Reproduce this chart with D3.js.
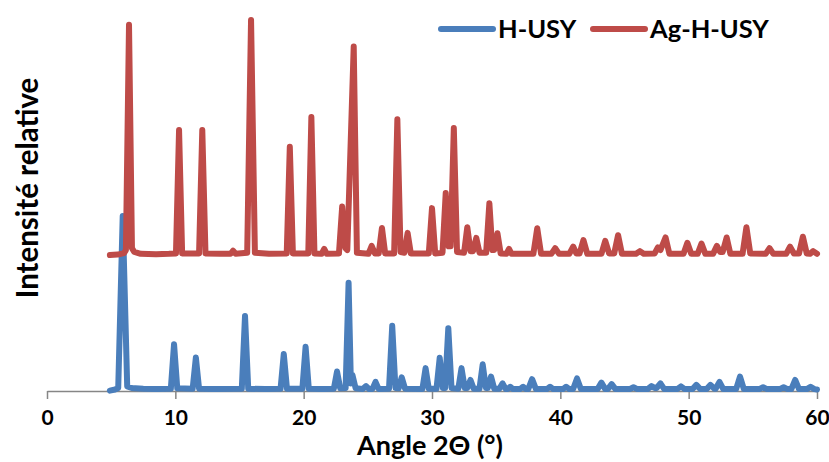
<!DOCTYPE html>
<html>
<script src="https://d3js.org/d3.v7.min.js"></script>

<head>
    <style>
        body {
            margin: 0;
            background-color: #ffffff;
            font-family: Lato, "Open Sans", Arial, sans-serif;
        }

        svg {
            display: block;
        }
    </style>
</head>

<body>
</body>
<script>
    const width = 829,
        height = 462;

    // x ticks, series names, offset applied to the upper pattern
    const TICKS = [0, 10, 20, 30, 40, 50, 60];
    const SERIES = ["H-USY", "Ag-H-USY"];
    const COLORS = ["#4A7EBB", "#BE4B48"];
    const AG_OFFSET = 35.5;

    // [angle 2theta, intensity]
    const H_USY = [
        [4.9, 0.1], [5.3, 0.4], [5.55, 0.8], [5.9, 45.9], [6.25, 1.2], [6.6, 0.8], [7.5, 0.6], [8.5, 0.5],
        [9.65, 0.6], [9.9, 12.3], [10.15, 0.7], [11.35, 0.6], [11.6, 8.8], [11.85, 0.6], [13, 0.5],
        [15.18, 0.6], [15.43, 19.7], [15.68, 0.6], [17, 0.5], [18.2, 0.6], [18.45, 9.7], [18.7, 0.6],
        [19.9, 0.6], [20.15, 11.6], [20.4, 0.6], [21.5, 0.5], [22.35, 0.6], [22.6, 5.1], [22.85, 0.7],
        [23.27, 0.8], [23.5, 28.4], [23.68, 2.0], [23.8, 4.2], [24.05, 0.7], [24.6, 0.5], [24.86, 1.3],
        [25.1, 0.5], [25.35, 0.5], [25.6, 2.4], [25.85, 0.5], [26.65, 0.6], [26.9, 17.1], [27.15, 0.8],
        [27.4, 0.7], [27.64, 3.6], [27.9, 0.6], [29.25, 0.5], [29.5, 6.0], [29.75, 0.6], [30.35, 0.6],
        [30.6, 8.7], [30.85, 0.8], [31.02, 0.8], [31.27, 16.5], [31.52, 0.8], [32.05, 0.6], [32.3, 6.0],
        [32.55, 0.8], [32.75, 0.8], [33.0, 2.9], [33.25, 0.6], [33.7, 0.6], [33.95, 7.0], [34.2, 0.8],
        [34.35, 0.8], [34.6, 3.8], [34.85, 0.6], [35.25, 0.6], [35.5, 2.0], [35.75, 0.5], [35.9, 0.5],
        [36.1, 1.1], [36.3, 0.5], [36.85, 0.5], [37.1, 1.1], [37.3, 0.5], [37.5, 0.5], [37.8, 3.1],
        [38.1, 0.5], [38.95, 0.5], [39.2, 1.1], [39.45, 0.5], [40.2, 0.5], [40.45, 1.1], [40.7, 0.5],
        [41.0, 0.5], [41.3, 3.3], [41.6, 0.5], [42.9, 0.5], [43.2, 2.2], [43.5, 0.5], [43.7, 0.5],
        [44.0, 1.8], [44.3, 0.5], [45.4, 0.5], [45.7, 1.0], [46.0, 0.5], [46.8, 0.5], [47.1, 1.3],
        [47.35, 0.8], [47.5, 0.8], [47.8, 2.0], [48.1, 0.5], [49.1, 0.5], [49.4, 1.2], [49.7, 0.5],
        [50.3, 0.5], [50.6, 1.6], [50.9, 0.5], [51.4, 0.5], [51.7, 1.6], [52.0, 0.6], [52.1, 0.6],
        [52.4, 2.4], [52.7, 0.5], [53.7, 0.5], [54.0, 3.8], [54.3, 0.5], [55.5, 0.5], [55.8, 1.0],
        [56.1, 0.5], [57.1, 0.5], [57.4, 1.0], [57.7, 0.5], [58.0, 0.5], [58.3, 2.9], [58.6, 0.5],
        [59.2, 0.5], [59.5, 1.1], [59.8, 0.5], [60, 0.4]
    ];

    const AG_H_USY = [
        [4.9, 0.2], [5.5, 0.3], [6.0, 0.7], [6.15, 1.5], [6.39, 60.6], [6.62, 2.0], [6.8, 1.0], [7.3, 0.5],
        [8.5, 0.4], [9.5, 0.5], [10.05, 0.6], [10.29, 33.0], [10.53, 0.6], [11.85, 0.6], [12.1, 33.0],
        [12.35, 0.6], [13.5, 0.5], [14.3, 0.5], [14.5, 1.3], [14.7, 0.5], [15.6, 0.8], [15.9, 61.9],
        [16.2, 0.8], [17.3, 0.5], [18.68, 0.6], [18.92, 28.6], [19.16, 0.6], [20.36, 0.6], [20.6, 36.4],
        [20.84, 0.6], [21.4, 0.5], [21.6, 1.8], [21.8, 0.5], [22.75, 0.6], [23.0, 12.9], [23.25, 2.0],
        [23.4, 1.5], [23.9, 54.9], [24.15, 0.8], [25.05, 0.5], [25.3, 2.6], [25.55, 0.6], [25.85, 0.6],
        [26.1, 7.3], [26.35, 0.6], [27.05, 0.6], [27.3, 35.8], [27.55, 1.0], [27.85, 0.8], [28.1, 6.0],
        [28.35, 0.6], [29.75, 0.6], [30.0, 12.5], [30.25, 0.6], [30.82, 0.8], [31.07, 16.5], [31.3, 2.5],
        [31.45, 2.5], [31.7, 33.5], [31.95, 1.0], [32.5, 0.8], [32.75, 7.5], [33.0, 1.2], [33.2, 1.2],
        [33.45, 4.7], [33.7, 0.8], [34.22, 0.8], [34.47, 13.8], [34.7, 1.5], [34.85, 1.5], [35.1, 5.9],
        [35.35, 0.6], [35.8, 0.5], [36.0, 1.8], [36.2, 0.5], [37.9, 0.5], [38.2, 7.2], [38.5, 0.5],
        [39.3, 0.5], [39.6, 2.0], [39.9, 0.5], [40.7, 0.5], [41.0, 2.4], [41.25, 0.6], [41.5, 0.6],
        [41.8, 4.1], [42.1, 0.5], [43.2, 0.5], [43.5, 3.9], [43.8, 0.6], [44.2, 0.6], [44.5, 5.4],
        [44.8, 0.5], [45.9, 0.5], [46.2, 1.2], [46.5, 0.5], [47.35, 0.6], [47.6, 2.2], [47.8, 1.5],
        [48.2, 4.8], [48.5, 0.5], [49.6, 0.5], [49.9, 3.4], [50.2, 0.5], [50.7, 0.5], [51.0, 3.2],
        [51.3, 0.5], [51.9, 0.5], [52.2, 2.6], [52.45, 1.0], [52.65, 1.0], [52.96, 4.8], [53.25, 0.5],
        [54.2, 0.5], [54.5, 7.5], [54.8, 0.6], [56.0, 0.5], [56.3, 2.0], [56.6, 0.5], [57.6, 0.5],
        [57.9, 2.4], [58.2, 0.6], [58.6, 0.6], [58.9, 5.0], [59.2, 0.6], [59.45, 0.5], [59.7, 1.2],
        [60, 0.5]
    ];

    const svg = d3.select("body").append("svg").attr("width", width).attr("height", height);

    const x = d3.scaleLinear().domain([0, 60]).range([47, 817]);
    const y = d3.scaleLinear().domain([0, 100]).range([391, 10]);

    function draw() {
        // x axis
        const axis = svg.append("g")
            .attr("transform", "translate(0," + y(0) + ")")
            .call(d3.axisBottom(x).tickValues(TICKS).tickSize(8).tickPadding(11).tickSizeOuter(0));
        axis.select(".domain").attr("stroke", "#868686").attr("stroke-width", 1.5);
        axis.selectAll(".tick line").attr("stroke", "#868686").attr("stroke-width", 1.5);
        axis.selectAll(".tick text")
            .attr("font-family", "Lato, sans-serif")
            .attr("font-size", "21px")
            .attr("font-weight", "bold")
            .attr("fill", "#000");

        const line = d3.line()
            .x(d => x(d[0]))
            .y(d => y(d[1]));

        const series = [H_USY, AG_H_USY.map(d => [d[0], d[1] + AG_OFFSET])];
        series.forEach((data, i) => {
            svg.append("path")
                .datum(data)
                .attr("d", line)
                .attr("fill", "none")
                .attr("stroke", COLORS[i])
                .attr("stroke-width", 6)
                .attr("stroke-linejoin", "round")
                .attr("stroke-linecap", "round");
        });

        // titles
        svg.append("text")
            .attr("x", 430)
            .attr("y", 455)
            .attr("text-anchor", "middle")
            .attr("font-size", "27px")
            .attr("font-weight", "bold")
            .text("Angle 2Θ (°)");

        svg.append("text")
            .attr("transform", "translate(38,188) rotate(-90)")
            .attr("text-anchor", "middle")
            .attr("font-size", "29.5px")
            .attr("font-weight", "bold")
            .text("Intensité relative");

        // legend
        const legendX = [441, 593];
        SERIES.forEach((name, i) => {
            svg.append("line")
                .attr("x1", legendX[i])
                .attr("x2", legendX[i] + 52)
                .attr("y1", 29)
                .attr("y2", 29)
                .attr("stroke", COLORS[i])
                .attr("stroke-width", 6)
                .attr("stroke-linecap", "round");
            svg.append("text")
                .attr("x", legendX[i] + 57)
                .attr("y", 38)
                .attr("font-size", "25.5px")
                .attr("font-weight", "bold")
                .text(name);
        });
    }

    draw();
</script>

</html>
